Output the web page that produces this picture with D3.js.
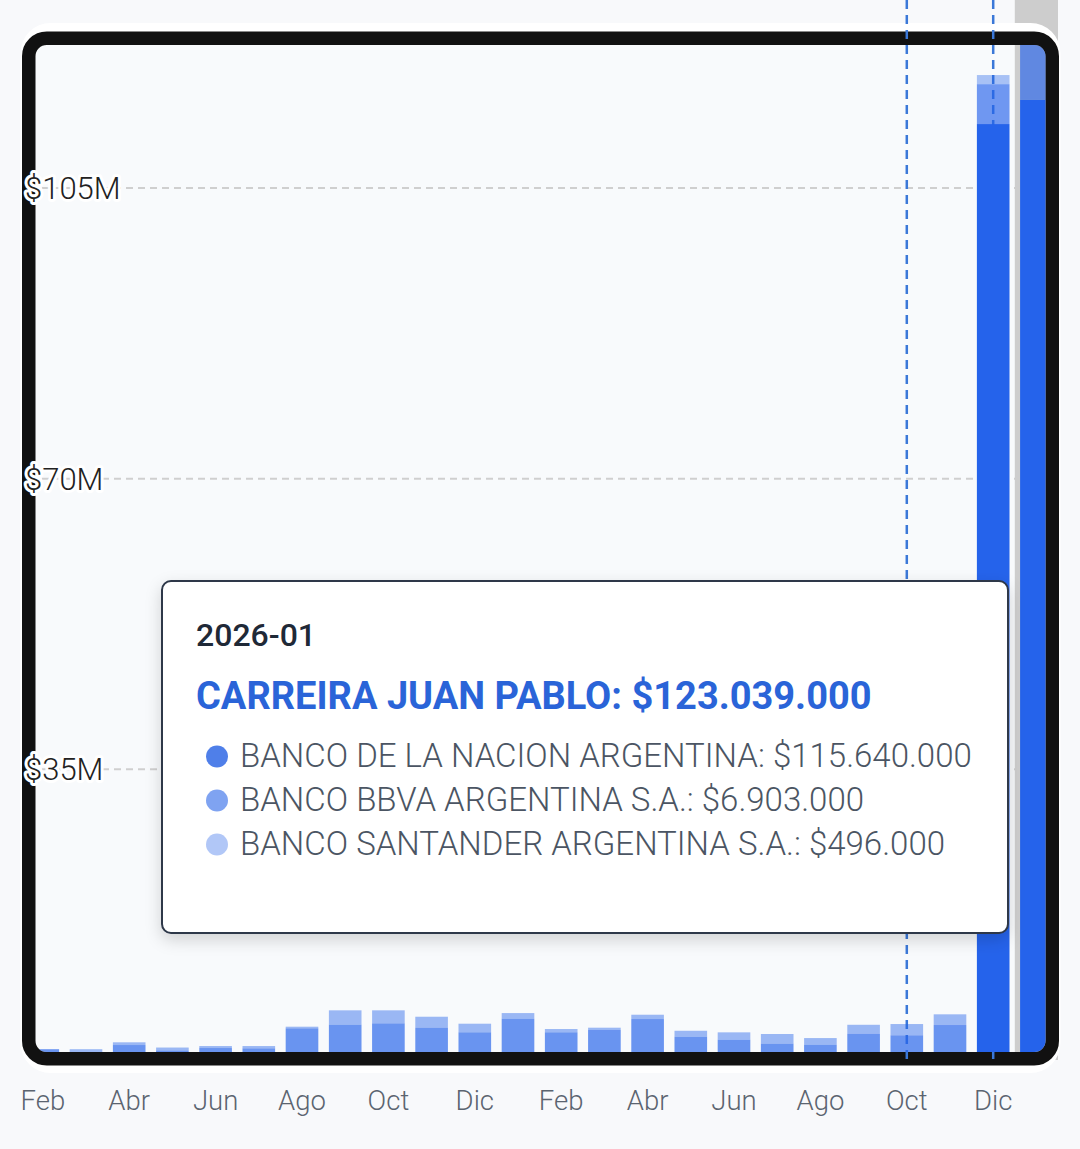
<!DOCTYPE html>
<html>
<head>
<meta charset="utf-8">
<script src="https://cdn.jsdelivr.net/npm/d3@7"></script>
<style>
  html, body { margin: 0; padding: 0; background: #f8f9fb; }
  svg { display: block; font-family: Roboto, "Noto Sans", sans-serif; }
</style>
</head>
<body>
<svg id="chart" width="1080" height="1149"></svg>
<script>
// months shown on the x axis (2024-02 .. 2026-01)
const months = ["2024-02", "2024-03", "2024-04", "2024-05", "2024-06", "2024-07", "2024-08", "2024-09",
  "2024-10", "2024-11", "2024-12", "2025-01", "2025-02", "2025-03", "2025-04", "2025-05", "2025-06",
  "2025-07", "2025-08", "2025-09", "2025-10", "2025-11", "2025-12", "2026-01"]
const monthNames = ["Ene", "Feb", "Mar", "Abr", "May", "Jun", "Jul", "Ago", "Sep", "Oct", "Nov", "Dic"]

// debt per bank, in millions of pesos
const nacion = [1.3, 0.8, 1.8, 1.15, 1.44, 1.4, 3.81, 4.25, 4.41, 3.89, 3.33, 4.97,
  3.33, 3.61, 4.93, 2.8, 2.44, 1.96, 1.84, 3.16, 2.97, 4.21, 112.7, 115.64]
const bbva = [0, 0.5, 0.33, 0.35, 0.24, 0.28, 0.2, 1.73, 1.57, 1.32, 1.04, 0.68,
  0.4, 0.28, 0.52, 0.72, 0.89, 1.17, 0.8, 1.08, 1.36, 1.29, 4.8, 6.903]
const santander = [0, 0, 0, 0, 0, 0, 0, 0, 0, 0, 0, 0,
  0, 0, 0, 0, 0, 0, 0, 0, 0, 0, 1.1, 0.496]

const bankNames = ["BANCO DE LA NACION ARGENTINA", "BANCO BBVA ARGENTINA S.A.", "BANCO SANTANDER ARGENTINA S.A."]
const debtorName = "CARREIRA JUAN PABLO"
const yTicks = [35, 70, 105]
const markedMonths = ["2025-10", "2025-12"]
const highlightMonths = ["2025-12", "2026-01"]
const activeMonth = "2026-01"

const barColor = "#2563eb"
const seriesOpacity = [1, 0.65, 0.38]
const idleFactor = 0.68
const dotColors = ["#4f7fe9", "#7fa3f1", "#b1c7f7"]

document.addEventListener("DOMContentLoaded", () => {

    const svg = d3.select("#chart")

    const FRAME = { x: 28.75, y: 38.25, w: 1023.5, h: 1020.5, r: 18, sw: 13.5 }
    const BASE = 1060

    const x = d3.scaleBand()
        .domain(months)
        .range([21.2, 1058])
        .paddingInner(0.245)
        .paddingOuter(0.1225)

    const y = d3.scaleLinear().domain([0, 105]).range([BASE, 188])

    const table = months.map((m, i) => ({ month: m, nacion: nacion[i], bbva: bbva[i], santander: santander[i] }))
    const keys = ["nacion", "bbva", "santander"]
    const stacked = d3.stack().keys(keys)(table)

    function roundedRect(x0, y0, w, h, r) {
        return `M${x0 + r},${y0}H${x0 + w - r}A${r},${r} 0 0 1 ${x0 + w},${y0 + r}V${y0 + h - r}` +
            `A${r},${r} 0 0 1 ${x0 + w - r},${y0 + h}H${x0 + r}A${r},${r} 0 0 1 ${x0},${y0 + h - r}` +
            `V${y0 + r}A${r},${r} 0 0 1 ${x0 + r},${y0}Z`
    }

    const defs = svg.append("defs")
    defs.append("clipPath").attr("id", "inner")
        .append("path")
        .attr("d", roundedRect(FRAME.x + FRAME.sw / 2, FRAME.y + FRAME.sw / 2,
            FRAME.w - FRAME.sw, FRAME.h - FRAME.sw, FRAME.r - FRAME.sw / 2))

    const shadow = defs.append("filter").attr("id", "shadow")
        .attr("x", "-10%").attr("y", "-10%").attr("width", "120%").attr("height", "130%")
    shadow.append("feDropShadow").attr("dx", 0).attr("dy", 6).attr("stdDeviation", 8)
        .attr("flood-color", "#000").attr("flood-opacity", 0.16)

    // plot background
    svg.append("path")
        .attr("d", roundedRect(FRAME.x, FRAME.y, FRAME.w, FRAME.h, FRAME.r))
        .attr("fill", "#f8fafc")

    // grid
    svg.append("g")
        .selectAll("line")
        .data(yTicks)
        .enter()
        .append("line")
        .attr("x1", 30)
        .attr("x2", 1058)
        .attr("y1", d => y(d))
        .attr("y2", d => y(d))
        .attr("stroke", "#cfcfcf")
        .attr("stroke-width", 2)
        .attr("stroke-dasharray", "7,5")

    // hover cursor band
    svg.append("rect")
        .attr("x", x(activeMonth) - x.step() * x.paddingOuter())
        .attr("width", x.step())
        .attr("y", 0)
        .attr("height", BASE)
        .attr("fill", "#cdcdcd")

    // white halo round the frame
    svg.append("path")
        .attr("d", roundedRect(20.5, 23, 1040, 1050, 30) + roundedRect(FRAME.x, FRAME.y, FRAME.w, FRAME.h, FRAME.r))
        .attr("fill", "#ffffff")
        .attr("fill-rule", "evenodd")

    // black frame
    svg.append("path")
        .attr("d", roundedRect(FRAME.x, FRAME.y, FRAME.w, FRAME.h, FRAME.r))
        .attr("fill", "none")
        .attr("stroke", "#111111")
        .attr("stroke-width", FRAME.sw)

    // marked months (behind the translucent bars)
    svg.append("g")
        .selectAll("line")
        .data(markedMonths)
        .enter()
        .append("line")
        .attr("x1", d => x(d) + x.bandwidth() / 2)
        .attr("x2", d => x(d) + x.bandwidth() / 2)
        .attr("y1", 0)
        .attr("y2", BASE)
        .attr("stroke", "#3b78d8")
        .attr("stroke-width", 2.5)
        .attr("stroke-dasharray", "9,6")

    // stacked bars
    const bars = svg.append("g").attr("clip-path", "url(#inner)")
    stacked.forEach((layer, k) => {
        bars.append("g")
            .selectAll("rect")
            .data(layer)
            .enter()
            .append("rect")
            .attr("x", d => x(d.data.month))
            .attr("width", x.bandwidth())
            .attr("y", d => y(d[1]))
            .attr("height", d => Math.max(0, y(d[0]) - y(d[1])))
            .attr("fill", barColor)
            .attr("fill-opacity", d => seriesOpacity[k] * (highlightMonths.includes(d.data.month) ? 1 : idleFactor))
    })

    // y labels
    svg.append("g")
        .selectAll("text")
        .data(yTicks)
        .enter()
        .append("text")
        .attr("x", 25)
        .attr("y", d => y(d))
        .attr("dy", "0.35em")
        .text(d => "$" + d + "M")
        .attr("font-size", 31)
        .attr("font-weight", 300)
        .attr("fill", "#222")
        .attr("stroke", "#fff")
        .attr("stroke-width", 6)
        .attr("stroke-linejoin", "round")
        .attr("paint-order", "stroke")

    // x axis
    const xAxis = d3.axisBottom(x)
        .tickValues(months.filter((m, i) => i % 2 === 0))
        .tickFormat(m => monthNames[+m.slice(5) - 1])
        .tickSize(0)
        .tickPadding(0)
    const gx = svg.append("g")
        .attr("transform", "translate(0, 1090)")
        .call(xAxis)
    gx.select(".domain").remove()
    gx.selectAll("text")
        .attr("font-size", 27.5)
        .attr("font-weight", 300)
        .attr("fill", "#5b6470")
        .attr("font-family", "Roboto, sans-serif")

    // tooltip
    const locale = d3.formatLocale({ decimal: ",", thousands: ".", grouping: [3], currency: ["$", ""] })
    const money = v => locale.format("$,")(Math.round(v * 1e6))
    const idx = months.indexOf(activeMonth)
    const values = [nacion[idx], bbva[idx], santander[idx]]
    const total = d3.sum(values)

    const tip = svg.append("g")
    tip.append("rect")
        .attr("x", 162).attr("y", 581)
        .attr("width", 846).attr("height", 352)
        .attr("rx", 9)
        .attr("fill", "#fff")
        .attr("stroke", "#2d3748")
        .attr("stroke-width", 2)
        .attr("filter", "url(#shadow)")

    tip.append("text")
        .attr("x", 196).attr("y", 646)
        .text(activeMonth)
        .attr("font-size", 32)
        .attr("font-weight", 500)
        .attr("fill", "#1f2937")

    tip.append("text")
        .attr("x", 196).attr("y", 709)
        .text(debtorName + ": " + money(total))
        .attr("font-size", 38)
        .attr("font-weight", 700)
        .attr("fill", "#2a64d8")

    const rows = tip.selectAll(".row")
        .data(bankNames)
        .enter()
        .append("g")
        .attr("transform", (d, i) => `translate(0, ${767 + i * 44})`)

    rows.append("circle")
        .attr("cx", 217).attr("cy", -10.5).attr("r", 11)
        .attr("fill", (d, i) => dotColors[i])

    rows.append("text")
        .attr("x", 240)
        .text((d, i) => d + ": " + money(values[i]))
        .attr("font-size", 33)
        .attr("font-weight", 300)
        .attr("fill", "#4b5563")
})
</script>
</body>
</html>
